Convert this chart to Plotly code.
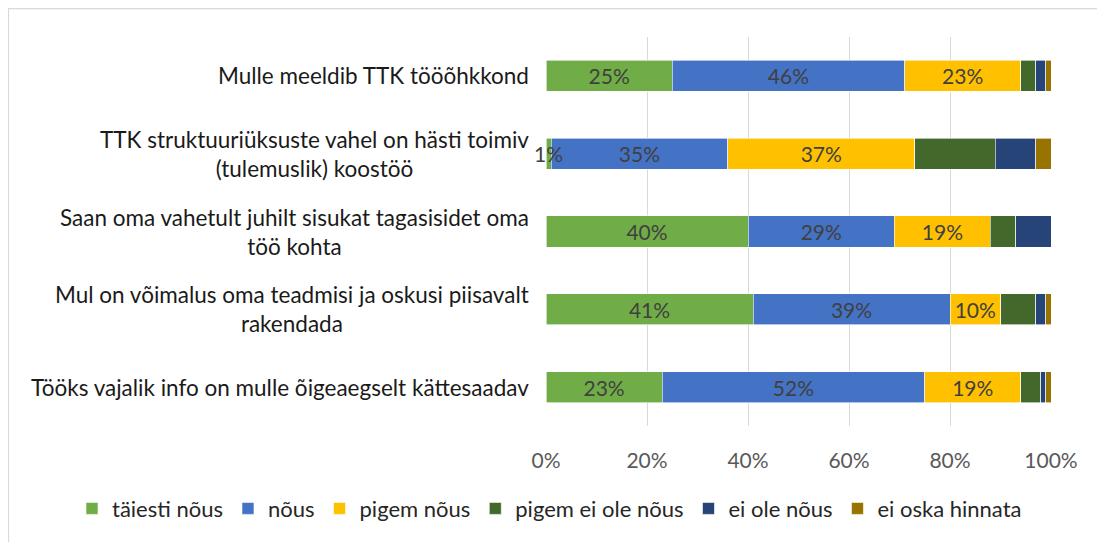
import plotly.graph_objects as go

categories = [
    "Mulle meeldib TTK tööõhkkond",
    "TTK struktuuriüksuste vahel on hästi toimiv<br>(tulemuslik) koostöö",
    "Saan oma vahetult juhilt sisukat tagasisidet oma<br>töö kohta",
    "Mul on võimalus oma teadmisi ja oskusi piisavalt<br>rakendada",
    "Tööks vajalik info on mulle õigeaegselt kättesaadav",
]
series_names = ["täiesti nõus", "nõus", "pigem nõus", "pigem ei ole nõus", "ei ole nõus", "ei oska hinnata"]
taiesti_nous = [25, 1, 40, 41, 23]
nous = [46, 35, 29, 39, 52]
pigem_nous = [23, 37, 19, 10, 19]
pigem_ei_ole_nous = [3, 16, 5, 7, 4]
ei_ole_nous = [2, 8, 7, 2, 1]
ei_oska_hinnata = [1, 3, 0, 1, 1]
labelled = [True, True, True, False, False, False]
tick_vals = [0, 20, 40, 60, 80, 100]
tick_text = ["0%", "20%", "40%", "60%", "80%", "100%"]

series_values = [taiesti_nous, nous, pigem_nous, pigem_ei_ole_nous, ei_ole_nous, ei_oska_hinnata]
colors = ["#70AD47", "#4472C4", "#FFC000", "#43682B", "#264478", "#997300"]

FONT = "Lato"
LBL = 21
fig = go.Figure()
annotations = []
cum = [0.0] * len(categories)
for name, vals, col, lab in zip(series_names, series_values, colors, labelled):
    texts = []
    for i, v in enumerate(vals):
        if lab and v >= 5:
            texts.append(f"{v}%")
        else:
            texts.append("")
            if lab and v > 0:
                annotations.append(dict(x=cum[i] + v / 2, y=categories[i], xref="x", yref="y",
                                        text=f"{v}%", showarrow=False,
                                        font=dict(family=FONT, size=LBL, color="#404040")))
    fig.add_trace(go.Bar(
        y=categories, x=vals, name=name, orientation="h",
        marker=dict(color=col, line=dict(color="white", width=0.6)),
        text=texts, textposition="inside", insidetextanchor="middle",
        textfont=dict(family=FONT, size=LBL, color="#404040"),
        constraintext="none", hoverinfo="skip",
    ))
    cum = [c + v for c, v in zip(cum, vals)]

for c in categories:
    annotations.append(dict(x=0, y=c, xref="paper", yref="y", xanchor="right", xshift=-15,
                            align="center", text=c, showarrow=False,
                            font=dict(family=FONT, size=22.5, color="#1a1a1a")))

OFF = 8  # page body margin
W, H = 1105 - OFF, 542 - OFF
L, R, T, B = 546 - OFF, 54, 37 - OFF, 114
pw, ph = W - L - R, H - T - B
shapes = [
    dict(type="line", xref="paper", yref="paper",
         x0=(0 - L) / pw, x1=(W + 5 - L) / pw, y0=1 + (T - 0.5) / ph, y1=1 + (T - 0.5) / ph,
         line=dict(color="#d9d9d9", width=1.2)),
    dict(type="line", xref="paper", yref="paper",
         x0=(0.5 - L) / pw, x1=(0.5 - L) / pw, y0=1 + T / ph, y1=-(H + 5 - (T + ph)) / ph,
         line=dict(color="#d9d9d9", width=1.2)),
]

fig.update_layout(
    width=W, height=H, barmode="stack", bargap=0.6,
    margin=dict(l=L, r=R, t=T, b=B),
    paper_bgcolor="white", plot_bgcolor="white",
    font=dict(family=FONT, color="#404040"),
    xaxis=dict(range=[0, 100], tickvals=tick_vals, ticktext=tick_text, showgrid=True,
               gridcolor="#d9d9d9", gridwidth=1, zeroline=False, showline=False,
               tickfont=dict(family=FONT, size=21, color="#595959"), ticks="", ticklabelstandoff=20),
    yaxis=dict(autorange="reversed", showticklabels=False, showgrid=False, zeroline=False,
               showline=False, ticks=""),
    legend=dict(orientation="h", xref="paper", x=(72 - OFF - L) / pw, xanchor="left",
                yref="paper", y=-(511 - OFF - (T + ph)) / ph, yanchor="middle",
                font=dict(family=FONT, size=22, color="#262626"),
                traceorder="normal", itemwidth=30),
    annotations=annotations, shapes=shapes,
    uniformtext=dict(minsize=LBL, mode="show"),
)
fig.write_html("out.html")
